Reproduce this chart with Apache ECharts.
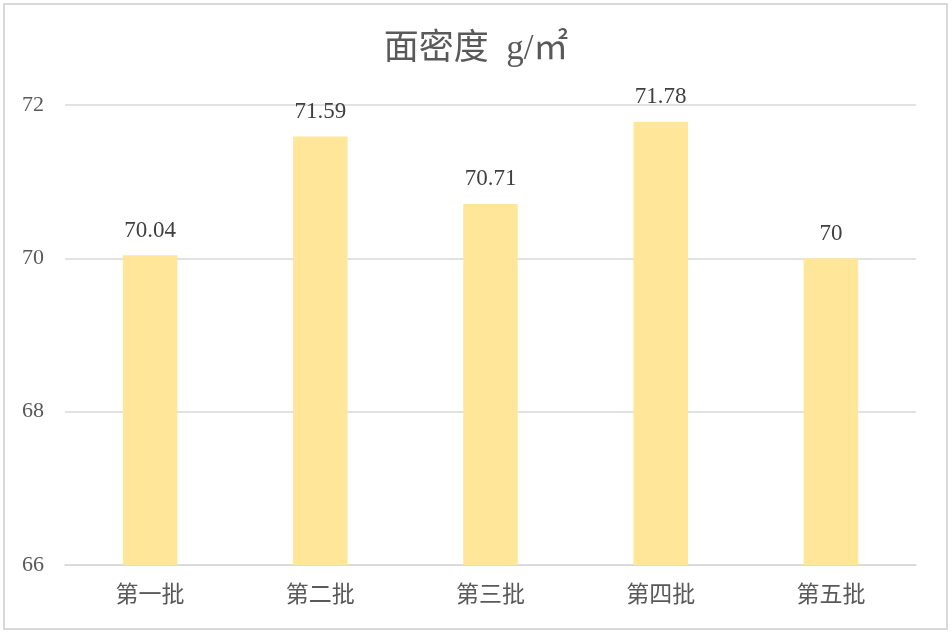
<!DOCTYPE html>
<html><head><meta charset="utf-8">
<script src="https://cdn.jsdelivr.net/npm/echarts@6/dist/echarts.min.js"></script>
<style>
html,body{margin:0;padding:0;background:#fff;}
#frame{position:absolute;left:3px;top:3px;width:941px;height:623px;border:2px solid #d9d9d9;}
#c{position:absolute;left:0;top:0;width:952px;height:635px;}
</style></head>
<body>
<div id="frame"></div>
<div id="c"></div>
<script>
const categories = ['第一批','第二批','第三批','第四批','第五批'];
const values = [70.04, 71.59, 70.71, 71.78, 70];
const yTicks = {min: 66, max: 72, interval: 2};
const titleText = '面密度  g/㎡';

const serif = '"Liberation Serif","Times New Roman","Noto Sans CJK SC",serif';
const chart = echarts.init(document.getElementById('c'));
chart.setOption({
  animation: false,
  title: {
    text: titleText, left: 'center', top: 27,
    textStyle: {fontFamily: serif, fontSize: 35, fontWeight: 'normal', color: '#595959'}
  },
  grid: {left: 65, right: 36, top: 105, bottom: 70},
  xAxis: {
    type: 'category', data: categories,
    axisLine: {lineStyle: {color: '#d9d9d9', width: 1.5}},
    axisTick: {show: false},
    axisLabel: {fontFamily: serif, fontSize: 23, color: '#595959', margin: 19}
  },
  yAxis: {
    type: 'value', min: yTicks.min, max: yTicks.max, interval: yTicks.interval,
    axisLine: {show: false}, axisTick: {show: false},
    splitLine: {lineStyle: {color: '#d9d9d9', width: 1.5}},
    axisLabel: {fontFamily: serif, fontSize: 22, color: '#595959', margin: 21}
  },
  series: [{
    type: 'bar', data: values, barWidth: '32%',
    itemStyle: {color: '#FFE699'},
    label: {show: true, position: 'top', distance: 13, fontFamily: serif, fontSize: 23, color: '#404040'}
  }]
});
</script>
</body></html>
